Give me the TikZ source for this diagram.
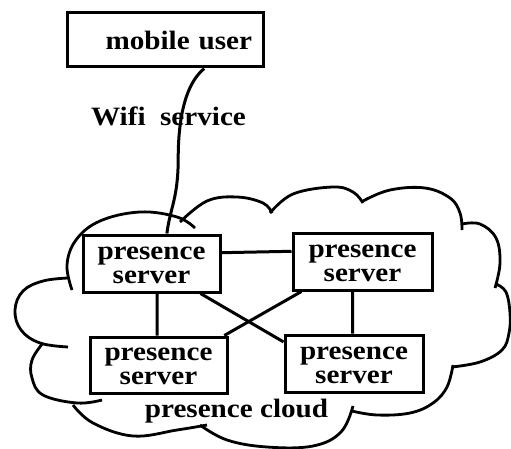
\documentclass[tikz,border=0pt]{standalone}
\usepackage{fontspec}
\setmainfont{Liberation Serif}[FakeStretch=1.1]
\usetikzlibrary{calc}
\tikzset{
  srv/.style={draw, line width=3pt, align=center, inner sep=0pt,
    font=\bfseries\fontsize{26.5}{24}\selectfont},
  srvlow/.style={execute at begin node={\rule{0pt}{40pt}}},
  lbl/.style={inner sep=0pt, font=\bfseries\fontsize{26.5}{24}\selectfont},
  conn/.style={line width=3pt},
  cloudline/.style={line width=2.8pt, smooth, tension=0.65}
}
\begin{document}
\begin{tikzpicture}[x=1pt, y=-1pt]
\path[use as bounding box] (0,0) rectangle (511,449);

% cloud
\draw[cloudline] plot coordinates {(72,290) (67,265) (76,240) (100,221) (140,212) (177,217) (195,228)};
\draw[cloudline] plot coordinates {(180,222) (207,201) (237,197) (263,203) (272,213)};
\draw[cloudline] plot coordinates {(270,213) (293,194) (333,187) (353,192) (363,203)};
\draw[cloudline] plot coordinates {(363,201) (390,190) (425,188) (450,198) (460,213) (462,230)};
\draw[cloudline] plot coordinates {(462,224) (480,224) (496,238) (500,263) (495,288)};
\draw[cloudline] plot coordinates {(496,284) (506,292) (510,313) (509,333) (502,350) (480,362) (452,367)};
\draw[cloudline] plot coordinates {(453,365) (447,387) (433,403) (410,413) (377,415) (352,411)};
\draw[cloudline] plot coordinates {(353,406) (341,432) (313,446) (267,447) (227,440) (200,425)};
\draw[cloudline] plot coordinates {(207,425) (177,430) (133,436) (93,423) (73,405)};
\draw[cloudline] plot coordinates {(102,400) (77,403) (43,395) (32,378) (32,360) (43,343)};
\draw[cloudline] plot coordinates {(68,347) (40,343) (21,330) (15,310) (23,291) (43,281) (68,278)};

% nodes
\node[srv, minimum width=196pt, minimum height=54pt, text width=174pt, align=right, inner xsep=11pt] (mu) at (165,40) {mobile user};
\node[lbl] (wifi) at (168.5,116) {Wifi\ \ service};
\node[srv, srvlow, minimum width=137pt, minimum height=57pt] (tl) at (151.5,263.5) {presence\\server};
\node[srv, srvlow, minimum width=139pt, minimum height=57pt] (tr) at (362.5,261.5) {presence\\server};
\node[srv, srvlow, minimum width=137pt, minimum height=56pt] (bl) at (158.5,365) {presence\\server};
\node[srv, srvlow, minimum width=138pt, minimum height=57pt] (br) at (354,363.5) {presence\\server};
\node[lbl] (pc) at (236.5,411) {presence cloud};

% connectors
\coordinate (muout) at ($(mu.south west)!0.697!(mu.south east)$);
\coordinate (tlin) at ($(tl.north west)!0.61!(tl.north east)$);
\draw[conn] (muout) .. controls +(-22,18) and +(0,-30) .. ($(muout)+(-26,90)$)
  .. controls +(0,40) and +(3,-25) .. (tlin);
\draw[conn] ($(tl.north east)!0.32!(tl.south east)$) -- ($(tr.north west)!0.33!(tr.south west)$);
\draw[conn] ($(tl.south west)!0.54!(tl.south east)$) -- ($(bl.north west)!0.49!(bl.north east)$);
\draw[conn] ($(tl.south west)!0.85!(tl.south east)$) -- ($(br.north west)!0.14!(br.south west)$);
\draw[conn] ($(tr.south west)!0.07!(tr.south east)$) -- ($(bl.north west)!0.97!(bl.north east)$);
\draw[conn] ($(tr.south west)!0.43!(tr.south east)$) -- ($(br.north west)!0.49!(br.north east)$);
\end{tikzpicture}
\end{document}
